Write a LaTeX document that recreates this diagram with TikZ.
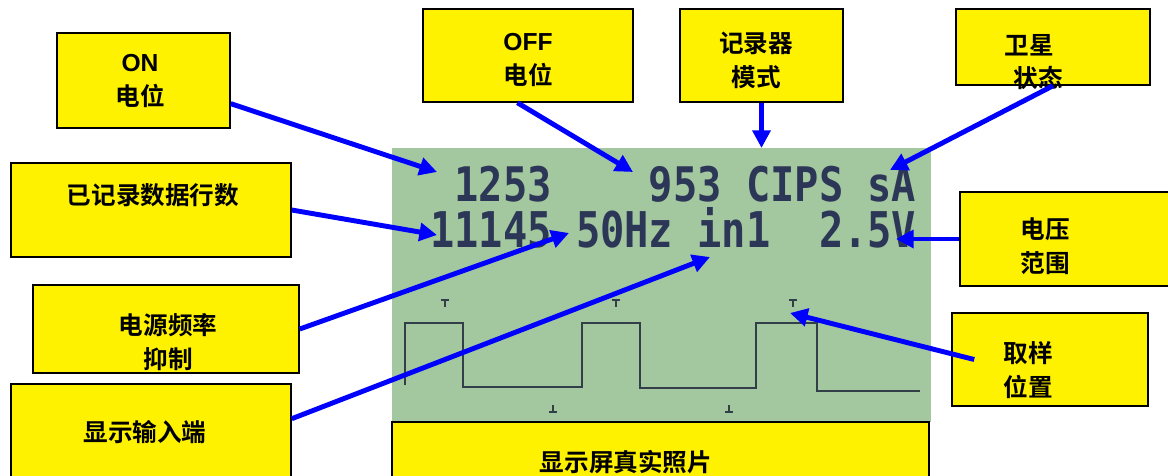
\documentclass[tikz,border=0pt]{standalone}
\usepackage{fontspec}
\setmainfont{Liberation Sans}
\newfontfamily\cjk{Noto Sans CJK SC}[UprightFont={* Bold}]
\newfontfamily\lcdfont{DejaVu Sans Mono}
\usetikzlibrary{arrows.meta, fit, calc}
\definecolor{lcdgreen}{RGB}{163,199,159}
\definecolor{lcdink}{RGB}{44,54,86}
\definecolor{wavegray}{RGB}{50,62,72}

\begin{document}
\begin{tikzpicture}[x=0.025cm,y=-0.025cm,
  box/.style={draw=black,line width=1.1pt,fill=yellow,inner sep=0pt},
  lbl/.style={font=\cjk\fontsize{17.5}{24}\selectfont,align=center,inner sep=0pt},
  lcd/.style={font=\lcdfont\bfseries\fontsize{28.7}{30}\selectfont,text=lcdink,anchor=base west,inner sep=0pt},
  arr/.style={draw=blue,line width=3.5pt,-{Triangle[length=0.44cm,width=0.44cm]}},
  wave/.style={draw=wavegray,line width=1.5pt}]
  \useasboundingbox (0,0) rectangle (1168,475);
  % screen photo
  \node[fill=lcdgreen,inner sep=0pt,fit={(392,148) (931,422)}] (lcd) {};
  \draw[wave] (405,385) -- (405,323) -- (463,323) -- (463,387) -- (582,387) -- (582,323) -- (640,323)
    -- (640,388) -- (756,388) -- (756,323) -- (817,323) -- (817,391) -- (920,391);
  \draw[wave] (441,300) -- (449,300) (445,300) -- (445,307) (612,300) -- (620,300) (616,300) -- (616,307)
    (789,300) -- (797,300) (793,300) -- (793,307);
  \draw[wave] (553,405) -- (553,412) (549,412) -- (557,412) (729,405) -- (729,412) (725,412) -- (733,412);
  \path (430,201) node[lcd] (r1) {\scalebox{1}[1.18]{\smash{~1253~~~~953~CIPS~sA}}}
  (430,247) node[lcd] (r2) {\scalebox{1}[1.22]{\smash{11145~50Hz~in1~~2.5V}}};
  % boxes
  \node[box,fit={(57,33) (230,128)}] (on) {};
  \node[box,fit={(423,9) (633,102)}] (off) {};
  \node[box,fit={(680,9) (843,102)}] (rec) {};
  \node[box,fit={(956,9) (1150,85)}] (sat) {};
  \node[box,fit={(11,163) (291,257)}] (rows) {};
  \node[box,fit={(33,285) (299,373)}] (freq) {};
  \node[box,fit={(11,384) (291,490)}] (inp) {};
  \node[box,fit={(392,422) (929,490)}] (photo) {};
  \node[box,fit={(960,192) (1180,286)}] (volt) {};
  \node[box,fit={(952,313) (1148,406)}] (samp) {};
  % labels
  \node[lbl] (onl) at (140,81) {{\rmfamily\bfseries ON}\\电位};
  \node[lbl] (offl) at (528,60) {{\rmfamily\bfseries OFF}\\电位};
  \node[lbl] (recl) at (756,60) {记录器\\模式};
  \node[lbl] (satl) at (1029,62) {卫星\\\hspace*{0.45cm}状态};
  \node[lbl] (rowsl) at (153,195) {已记录数据行数};
  \node[lbl] (freql) at (168,342) {电源频率\\抑制};
  \node[lbl] (inpl) at (145,432) {显示输入端};
  \node[lbl] (photol) at (626,462) {显示屏真实照片};
  \node[lbl] (voltl) at (1045,246) {电压\\范围};
  \node[lbl] (sampl) at (1028,370) {取样\\位置};
  % arrows
  \coordinate (t1) at (437,172);
  \coordinate (t2) at (633,172);
  \coordinate (t3) at (761.5,148);
  \coordinate (t4) at (890,170);
  \coordinate (t5) at (437,235);
  \coordinate (t6) at (569,233);
  \coordinate (t7) at (710,257);
  \coordinate (t8) at (896,239);
  \coordinate (t9) at (790,313);
  \draw[arr] ($(on.north east)!0.74!(on.south east)$) -- (t1);
  \draw[arr] ($(off.south west)!0.45!(off.south east)$) -- (t2);
  \draw[arr] (rec.south) -- (t3);
  \draw[arr] (sat.south) -- (t4);
  \draw[arr] (rows.east) -- (t5);
  \draw[arr] (freq.east) -- (t6);
  \draw[arr] ($(inp.north east)!0.33!(inp.south east)$) -- (t7);
  \draw[arr] (volt.west) -- (t8);
  \draw[arr] ($(samp.west)+(23,0)$) -- (t9);
\end{tikzpicture}
\end{document}
